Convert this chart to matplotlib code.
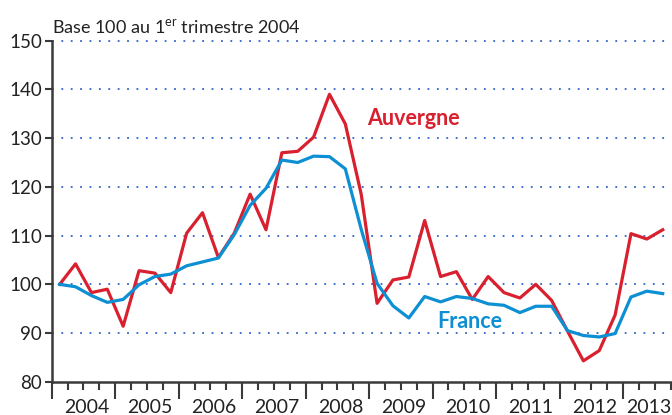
import numpy as np
import matplotlib.pyplot as plt

plt.rcParams['font.family'] = ['Lato', 'DejaVu Sans']
plt.rcParams['mathtext.fontset'] = 'custom'
plt.rcParams['mathtext.rm'] = 'Lato'

# -----------------------------
# DATA (quarterly index, base 100 = 2004 Q1)
# -----------------------------
years = [2004, 2005, 2006, 2007, 2008, 2009, 2010, 2011, 2012, 2013]

auvergne = [100, 104.2, 98.3, 99.0, 91.4, 102.8, 102.3, 98.3,
            110.5, 114.7, 105.5, 110.5, 118.5, 111.2, 127.0, 127.3,
            130.2, 139.0, 132.9, 118.5, 96.1, 100.9, 101.5, 113.1,
            101.6, 102.6, 96.9, 101.6, 98.3, 97.2, 100.0, 96.7,
            90.4, 84.3, 86.4, 93.7, 110.4, 109.3, 111.2]

france = [100, 99.5, 97.7, 96.3, 96.9, 99.9, 101.6, 102.1,
          103.8, 104.6, 105.4, 110.2, 116.2, 119.7, 125.5, 125.0,
          126.3, 126.2, 123.7, 111.3, 100.2, 95.6, 93.1, 97.5,
          96.4, 97.5, 97.1, 96.0, 95.7, 94.2, 95.5, 95.5,
          90.5, 89.5, 89.2, 89.9, 97.4, 98.6, 98.1]

RED = "#d9202f"
BLUE = "#0d8fd3"
DARK = "#3a3a3a"

x = np.arange(len(auvergne))

fig = plt.figure(figsize=(6.72, 4.15), dpi=100)
ax = fig.add_axes([0.077, 0.080, 0.921, 0.822])

# dotted grid
for v in range(90, 151, 10):
    ax.axhline(v, color="#2f64c8", lw=1.3, ls=(0, (1, 4.2)), zorder=1, clip_on=False)

ax.plot(x, auvergne, color=RED, lw=2.3, zorder=3)
ax.plot(x, france, color=BLUE, lw=2.3, zorder=3)

ax.set_xlim(-0.5, 38.5)
ax.set_ylim(80, 150)

ax.set_yticks(range(80, 151, 10))
ax.tick_params(axis="y", length=5, width=1.5, color=DARK, labelsize=13.5,
               labelcolor="#222222", pad=2)

ax.set_xticks(np.arange(-0.5, 38, 4))
ax.set_xticklabels([])
ax.set_xticks(np.arange(-0.5, 39, 1), minor=True)
ax.tick_params(axis="x", which="major", length=12, width=1.5, color=DARK)
ax.tick_params(axis="x", which="minor", length=6, width=1.5, color=DARK)

for i, yr in enumerate(years):
    xpos = 4 * i + 1.7 if yr != 2013 else 37.1
    ax.text(xpos, -0.074, str(yr), transform=ax.get_xaxis_transform(),
            ha="center", va="center", fontsize=14, color="#222222")

for s in ["top", "right"]:
    ax.spines[s].set_visible(False)
for s in ["left", "bottom"]:
    ax.spines[s].set_linewidth(1.8)
    ax.spines[s].set_color(DARK)

ax.text(19.4, 134.1, "Auvergne", color=RED, fontsize=15.5, fontweight="bold",
        ha="left", va="center")
ax.text(23.8, 92.3, "France", color=BLUE, fontsize=15.5, fontweight="bold",
        ha="left", va="center")

fig.text(0.077, 0.912, r"Base 100 au 1$^{\mathrm{er}}$ trimestre 2004",
         fontsize=13, color="#222222", ha="left", va="bottom")

fig.savefig("out.png", dpi=100)
